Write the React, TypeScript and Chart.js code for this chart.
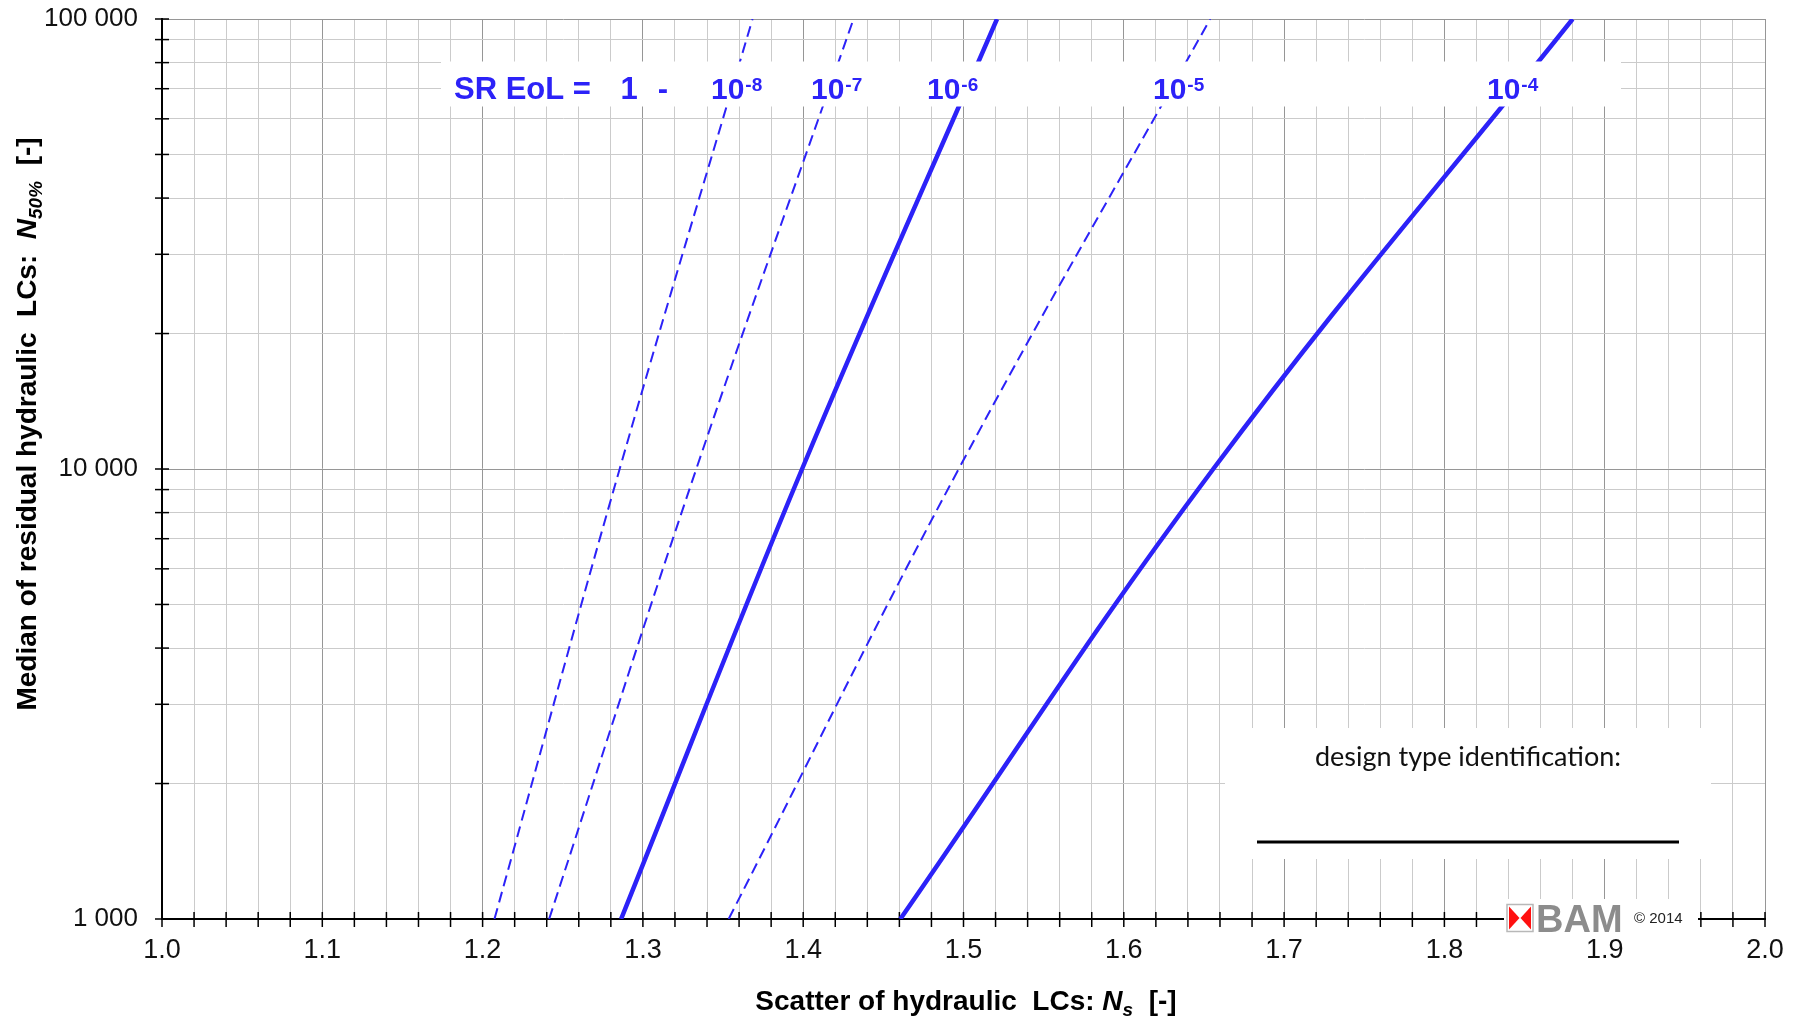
import React, { useEffect, useRef } from 'react';
import { Chart, registerables } from 'chart.js';

Chart.register(...registerables);

// ---------- data ----------
// N50% anchor values (y) at which the Ns values of each curve were read
const yAnchors = [1000, 10000, 100000];
// Ns values of each survival-rate curve at the anchors above
const ns1e8 = [1.2074, 1.2855, 1.3684];
const ns1e7 = [1.2415, 1.3333, 1.4314];
const ns1e6 = [1.2864, 1.3993, 1.5209];
const ns1e5 = [1.3535, 1.497, 1.6539];
const ns1e4 = [1.4606, 1.6558, 1.88];

const seriesExponents = ['-8', '-7', '-6', '-5', '-4'];
const seriesDashed = [true, true, false, true, false];

// axis ticks
const xTickValues = [
  1.0, 1.02, 1.04, 1.06, 1.08, 1.1, 1.12, 1.14, 1.16, 1.18, 1.2, 1.22, 1.24, 1.26, 1.28,
  1.3, 1.32, 1.34, 1.36, 1.38, 1.4, 1.42, 1.44, 1.46, 1.48, 1.5, 1.52, 1.54, 1.56, 1.58,
  1.6, 1.62, 1.64, 1.66, 1.68, 1.7, 1.72, 1.74, 1.76, 1.78, 1.8, 1.82, 1.84, 1.86, 1.88,
  1.9, 1.92, 1.94, 1.96, 1.98, 2.0,
];
const xLabelValues = [1.0, 1.1, 1.2, 1.3, 1.4, 1.5, 1.6, 1.7, 1.8, 1.9, 2.0];
const xLabelTexts = ['1.0', '1.1', '1.2', '1.3', '1.4', '1.5', '1.6', '1.7', '1.8', '1.9', '2.0'];
const yTickValues = [
  1000, 2000, 3000, 4000, 5000, 6000, 7000, 8000, 9000,
  10000, 20000, 30000, 40000, 50000, 60000, 70000, 80000, 90000, 100000,
];
const yLabelValues = [1000, 10000, 100000];
const yLabelTexts = ['1 000', '10 000', '100 000'];

// ---------- style ----------
const FONT = '"Liberation Sans", Arial, Helvetica, sans-serif';
const BLUE = 'rgb(44, 34, 248)';
const GRID_MINOR = '#cbcbcb';
const GRID_MAJOR = '#969696';

type Run = { t: string; f: string; dy: number };

function runsWidth(ctx: CanvasRenderingContext2D, runs: Run[]) {
  let w = 0;
  for (const r of runs) {
    ctx.font = r.f;
    w += ctx.measureText(r.t).width;
  }
  return w;
}

function drawRuns(ctx: CanvasRenderingContext2D, runs: Run[], cx: number, y: number) {
  const total = runsWidth(ctx, runs);
  let x = cx - total / 2;
  ctx.textAlign = 'left';
  ctx.textBaseline = 'alphabetic';
  for (const r of runs) {
    ctx.font = r.f;
    ctx.fillText(r.t, x, y + r.dy);
    x += ctx.measureText(r.t).width;
  }
}

function isLabelX(v: number) {
  return xLabelValues.some((l) => Math.abs(l - v) < 1e-6);
}

const decorPlugin = {
  id: 'decor',
  beforeDatasetsDraw(chart: any) {
    const ctx: CanvasRenderingContext2D = chart.ctx;
    const xs = chart.scales.x;
    const ys = chart.scales.y;
    const a = chart.chartArea;
    ctx.save();
    ctx.strokeStyle = '#000';
    ctx.lineWidth = 1.5;
    for (const v of xTickValues) {
      const px = xs.getPixelForValue(v);
      ctx.beginPath();
      ctx.moveTo(px, a.bottom - 7);
      ctx.lineTo(px, a.bottom + 8);
      ctx.stroke();
    }
    for (const v of yTickValues) {
      const py = ys.getPixelForValue(v);
      ctx.beginPath();
      ctx.moveTo(a.left - 7, py);
      ctx.lineTo(a.left + 7, py);
      ctx.stroke();
    }
    ctx.restore();
  },
  afterDatasetsDraw(chart: any) {
    const ctx: CanvasRenderingContext2D = chart.ctx;
    ctx.save();

    // white band carrying the survival-rate labels
    ctx.fillStyle = '#fff';
    ctx.fillRect(441, 61.5, 1180, 45);
    ctx.fillStyle = BLUE;
    ctx.textBaseline = 'alphabetic';
    ctx.font = `bold 31px ${FONT}`;
    ctx.textAlign = 'left';
    ctx.fillText('SR EoL =', 454, 99);
    ctx.textAlign = 'center';
    ctx.fillText('1', 629, 99);
    ctx.fillText('-', 663, 99);
    const labelLefts = [711, 811, 927, 1153, 1487];
    seriesExponents.forEach((e, i) => {
      ctx.textAlign = 'left';
      ctx.font = `bold 30px ${FONT}`;
      ctx.fillText('10', labelLefts[i], 99);
      const w = ctx.measureText('10').width;
      ctx.font = `bold 19px ${FONT}`;
      ctx.fillText(e, labelLefts[i] + w + 1, 91);
    });

    // design type identification box
    ctx.fillStyle = '#fff';
    ctx.fillRect(1225, 728, 486, 131);
    ctx.fillStyle = '#111';
    ctx.font = `27px Lato, "Open Sans", sans-serif`;
    ctx.textAlign = 'center';
    ctx.textBaseline = 'middle';
    ctx.fillText('design type identification:', 1468, 757);
    ctx.fillStyle = '#000';
    ctx.fillRect(1257, 840.5, 422, 3);

    // BAM logo
    ctx.fillStyle = '#fff';
    ctx.fillRect(1504, 899, 194, 38);
    ctx.strokeStyle = '#b8b8b8';
    ctx.lineWidth = 1.5;
    ctx.strokeRect(1507, 904.5, 26, 27);
    ctx.fillStyle = '#ff1010';
    ctx.beginPath();
    ctx.moveTo(1509, 906.5);
    ctx.lineTo(1519.5, 918);
    ctx.lineTo(1509, 929.5);
    ctx.closePath();
    ctx.fill();
    ctx.beginPath();
    ctx.moveTo(1531, 906.5);
    ctx.lineTo(1520.5, 918);
    ctx.lineTo(1531, 929.5);
    ctx.closePath();
    ctx.fill();
    ctx.fillStyle = '#8c8c8c';
    ctx.font = `bold 38px ${FONT}`;
    ctx.textAlign = 'left';
    ctx.textBaseline = 'alphabetic';
    ctx.fillText('BAM', 1536, 932);
    ctx.fillStyle = '#222';
    ctx.font = `15px ${FONT}`;
    ctx.fillText('\u00A9 2014', 1634, 923);

    // axis titles
    ctx.fillStyle = '#000';
    const xTitle: Run[] = [
      { t: 'Scatter of hydraulic  LCs: ', f: `bold 28px ${FONT}`, dy: 0 },
      { t: 'N', f: `italic bold 28px ${FONT}`, dy: 0 },
      { t: 's', f: `italic bold 19px ${FONT}`, dy: 6 },
      { t: '  [-]', f: `bold 28px ${FONT}`, dy: 0 },
    ];
    drawRuns(ctx, xTitle, 966, 1010);

    const yTitle: Run[] = [
      { t: 'Median of residual hydraulic  LCs:  ', f: `bold 28px ${FONT}`, dy: 0 },
      { t: 'N', f: `italic bold 28px ${FONT}`, dy: 0 },
      { t: '50%', f: `italic bold 19px ${FONT}`, dy: 6 },
      { t: '  [-]', f: `bold 28px ${FONT}`, dy: 0 },
    ];
    ctx.translate(36, 424);
    ctx.rotate(-Math.PI / 2);
    drawRuns(ctx, yTitle, 0, 0);

    ctx.restore();
  },
};

export default function App() {
  const canvasRef = useRef<HTMLCanvasElement | null>(null);

  useEffect(() => {
    const canvas = canvasRef.current;
    if (!canvas) return;
    const seriesNs = [ns1e8, ns1e7, ns1e6, ns1e5, ns1e4];
    const datasets = seriesNs.map((xsVals, i) => ({
      label: 'SR EoL = 1 - 10^' + seriesExponents[i],
      data: yAnchors.map((y, k) => ({ x: xsVals[k], y })),
      borderColor: BLUE,
      backgroundColor: BLUE,
      borderWidth: seriesDashed[i] ? 2 : 4.5,
      borderDash: seriesDashed[i] ? [11, 6] : [],
      pointRadius: 0,
      tension: 0.4,
      fill: false,
    }));

    const chart = new Chart(canvas, {
      type: 'line',
      data: { datasets },
      plugins: [decorPlugin],
      options: {
        responsive: false,
        animation: false,
        devicePixelRatio: 1,
        layout: { padding: { top: 19, right: 31, left: 0, bottom: 0 } },
        plugins: {
          legend: { display: false },
          tooltip: { enabled: false },
          title: { display: false },
        },
        scales: {
          x: {
            type: 'linear',
            position: 'bottom',
            min: 1,
            max: 2,
            afterBuildTicks: (scale: any) => {
              scale.ticks = xTickValues.map((v) => ({ value: v }));
            },
            afterFit: (scale: any) => {
              scale.height = 100;
              scale.paddingLeft = 0;
              scale.paddingRight = 0;
            },
            ticks: {
              autoSkip: false,
              maxRotation: 0,
              minRotation: 0,
              padding: 15,
              color: '#111',
              font: { family: FONT, size: 27 },
              callback: (v: any) => {
                const idx = xLabelValues.findIndex((l) => Math.abs(l - Number(v)) < 1e-6);
                return idx >= 0 ? xLabelTexts[idx] : '';
              },
            },
            grid: {
              drawTicks: false,
              lineWidth: 1,
              color: (c: any) => (c.tick && isLabelX(c.tick.value) ? GRID_MAJOR : GRID_MINOR),
            },
            border: { display: true, color: '#000', width: 2 },
          },
          y: {
            type: 'logarithmic',
            min: 1000,
            max: 100000,
            afterBuildTicks: (scale: any) => {
              scale.ticks = yTickValues.map((v) => ({ value: v }));
            },
            afterFit: (scale: any) => {
              scale.width = 162;
              scale.paddingTop = 0;
              scale.paddingBottom = 0;
            },
            ticks: {
              autoSkip: false,
              padding: 24,
              color: '#111',
              font: { family: FONT, size: 26 },
              callback: (v: any) => {
                const idx = yLabelValues.indexOf(Number(v));
                return idx >= 0 ? yLabelTexts[idx] : '';
              },
            },
            grid: {
              drawTicks: false,
              lineWidth: 1,
              color: (c: any) =>
                c.tick && yLabelValues.indexOf(c.tick.value) >= 0 ? GRID_MAJOR : GRID_MINOR,
            },
            border: { display: true, color: '#000', width: 2 },
          },
        },
      },
    } as any);

    return () => {
      chart.destroy();
    };
  }, []);

  return (
    <div
      style={{
        position: 'absolute',
        left: 0,
        top: 0,
        width: 1796,
        height: 1019,
        background: '#fff',
        overflow: 'hidden',
      }}
    >
      <canvas ref={canvasRef} width={1796} height={1019} style={{ display: 'block' }} />
    </div>
  );
}
